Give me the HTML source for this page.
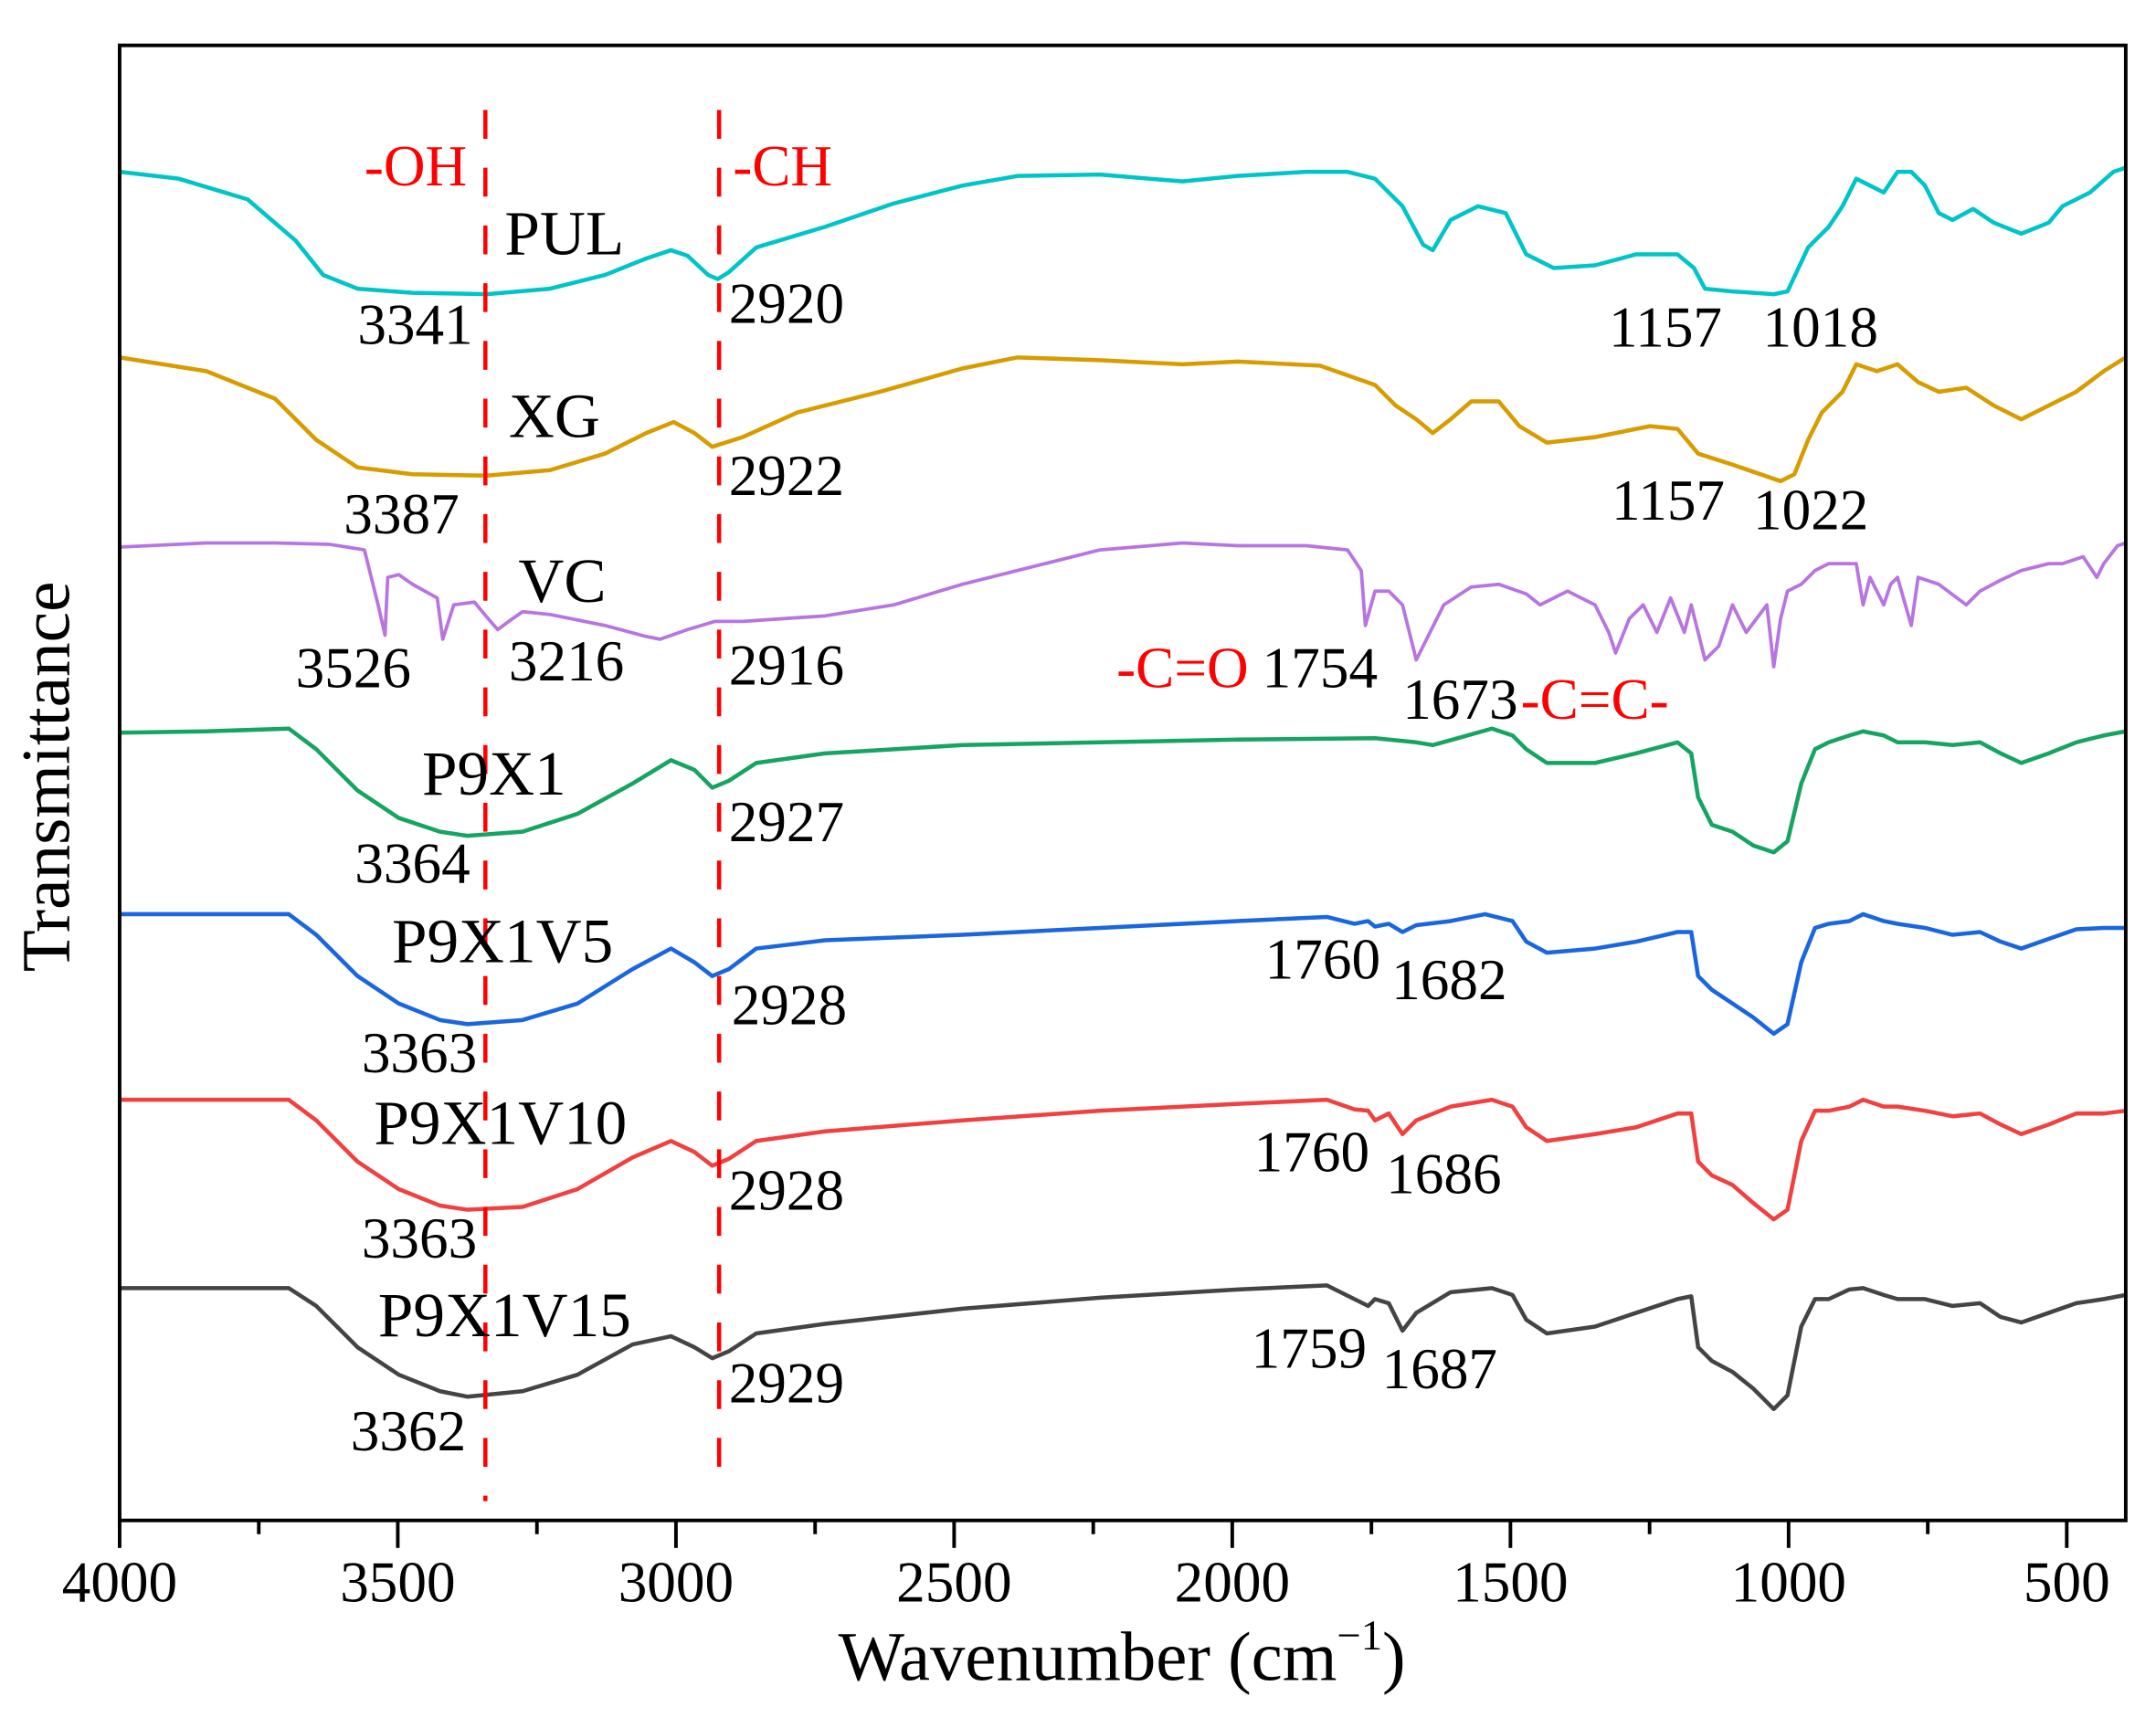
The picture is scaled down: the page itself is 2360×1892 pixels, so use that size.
<!DOCTYPE html>
<html><head><meta charset="utf-8"><style>
html,body{margin:0;padding:0;background:#fff;}
svg{display:block;}
text{font-family:"Liberation Serif",serif;}
</style></head><body>
<svg width="2360" height="1892" viewBox="0 0 1568 1257" preserveAspectRatio="none" xmlns="http://www.w3.org/2000/svg">
<rect x="0" y="0" width="1568" height="1257" fill="#fff"/>
<g fill="none" stroke-width="3" stroke-linejoin="round">
<polyline stroke="#00c4c8" points="87,125 130,130 180,145 215,175 235,200 260,210 300,213 354,214 400,210 440,200 470,188 488,182 500,186 515,200 522,203 530,198 550,180 600,165 650,148 700,135 740,128 800,127 860,132 900,128 950,125 980,125 1000,130 1020,150 1035,178 1042,182 1055,160 1075,150 1095,155 1110,185 1130,195 1160,193 1190,185 1220,185 1232,195 1240,210 1260,212 1290,214 1300,212 1315,180 1330,165 1340,150 1350,130 1360,135 1370,140 1380,125 1390,125 1400,135 1410,155 1420,160 1435,152 1450,162 1470,170 1490,162 1500,150 1520,140 1537,125 1546,122"/>
<polyline stroke="#d89c00" points="87,260 150,270 200,290 230,320 260,340 300,345 354,346 400,342 440,330 470,315 490,307 505,315 518,325 540,318 580,300 640,285 700,268 740,260 800,262 860,265 900,263 960,266 1000,280 1015,295 1030,305 1042,315 1055,305 1070,292 1090,292 1105,310 1125,322 1160,318 1200,310 1220,312 1235,330 1260,338 1295,350 1305,345 1315,320 1325,300 1340,285 1350,265 1365,270 1380,265 1395,278 1410,285 1430,282 1450,295 1470,305 1490,295 1510,285 1530,270 1546,260"/>
<polyline stroke="#b874e0" stroke-width="2.5" points="87,398 150,395 200,395 240,396 265,400 275,440 280,462 282,420 290,418 300,425 318,435 322,465 330,440 345,438 355,450 362,458 370,452 380,445 400,447 440,455 470,463 480,465 500,458 520,452 540,452 600,448 650,440 700,425 760,410 800,400 860,395 900,397 950,397 980,400 990,415 993,455 1000,430 1010,430 1020,440 1025,460 1030,480 1035,470 1050,440 1070,427 1090,425 1110,432 1120,440 1140,430 1160,440 1170,460 1175,475 1185,450 1195,440 1205,460 1215,435 1225,460 1230,440 1240,480 1250,470 1260,440 1270,460 1285,440 1290,485 1295,450 1300,430 1310,425 1320,415 1330,410 1350,410 1355,440 1360,420 1370,440 1375,425 1380,420 1390,455 1395,420 1410,425 1430,440 1440,430 1455,422 1470,415 1490,410 1500,410 1515,405 1525,420 1530,410 1540,397 1546,395"/>
<polyline stroke="#16a462" points="87,533 150,532 210,530 230,545 260,575 290,595 320,605 340,608 380,605 420,592 460,570 488,553 505,560 518,573 530,568 550,555 600,548 650,545 700,542 800,540 900,538 1000,537 1030,540 1042,542 1060,537 1085,530 1100,535 1110,545 1125,555 1160,555 1190,548 1220,540 1230,548 1235,580 1245,600 1260,605 1275,615 1290,620 1300,612 1310,570 1320,545 1330,540 1345,535 1355,532 1370,535 1380,540 1400,540 1420,542 1440,540 1455,548 1470,555 1490,548 1510,540 1530,535 1546,532"/>
<polyline stroke="#1a66e0" points="87,665 210,665 230,680 260,710 290,730 320,742 340,745 380,742 420,730 460,705 488,690 505,700 518,710 530,705 550,690 600,684 700,680 800,675 900,670 965,667 985,672 995,670 1000,674 1010,672 1020,678 1030,673 1055,670 1080,665 1100,670 1110,685 1125,693 1160,690 1190,685 1220,678 1230,678 1235,710 1245,720 1260,730 1275,740 1290,752 1300,745 1310,700 1320,675 1330,672 1345,670 1355,665 1370,670 1380,672 1400,675 1420,680 1440,678 1455,685 1470,690 1490,683 1510,676 1530,675 1546,675"/>
<polyline stroke="#f04040" points="87,800 210,800 230,815 260,845 290,865 320,877 340,880 380,878 420,865 460,842 488,830 505,838 518,848 530,843 550,830 600,823 700,815 800,808 900,803 965,800 985,807 995,808 1000,815 1010,810 1020,825 1030,815 1055,805 1085,800 1100,805 1110,820 1125,830 1160,825 1190,820 1220,810 1230,810 1235,845 1245,855 1260,862 1275,875 1290,887 1300,880 1310,830 1320,808 1330,808 1345,805 1355,800 1370,805 1380,805 1400,808 1420,812 1440,810 1455,818 1470,825 1490,818 1510,810 1530,810 1546,808"/>
<polyline stroke="#444" points="87,937 210,937 230,950 260,980 290,1000 320,1012 340,1016 380,1012 420,1000 460,978 488,972 505,980 518,988 530,983 550,970 600,963 700,952 800,944 900,938 965,935 985,945 995,950 1000,945 1010,948 1020,968 1030,955 1055,940 1085,937 1100,942 1110,960 1125,970 1160,965 1190,955 1220,945 1230,943 1235,980 1245,990 1260,998 1275,1010 1290,1025 1300,1015 1310,965 1320,945 1330,945 1345,938 1355,937 1370,942 1380,945 1400,945 1420,950 1440,948 1455,958 1470,962 1490,955 1510,948 1530,945 1546,942"/>
<line x1="353" y1="80" x2="353" y2="1092" stroke="#ff0000" stroke-width="3" stroke-dasharray="21,21"/>
<line x1="523" y1="80" x2="523" y2="1088" stroke="#ff0000" stroke-width="3" stroke-dasharray="21,21"/>
</g>
<g fill="#000" font-size="42">
<text x="265" y="135" fill="#ff0000">-OH</text>
<text x="533" y="135" fill="#ff0000">-CH</text>
<text x="367" y="185" font-size="46">PUL</text>
<text x="260" y="250">3341</text>
<text x="530" y="235">2920</text>
<text x="1170" y="252">1157</text>
<text x="1282" y="252">1018</text>
<text x="370" y="318" font-size="46">XG</text>
<text x="250" y="388">3387</text>
<text x="530" y="360">2922</text>
<text x="1172" y="378">1157</text>
<text x="1275" y="385">1022</text>
<text x="377" y="438" font-size="46">VC</text>
<text x="215" y="500">3526</text>
<text x="370" y="495">3216</text>
<text x="530" y="498">2916</text>
<text x="812" y="500" fill="#ff0000">-C=O</text>
<text x="918" y="500">1754</text>
<text x="1020" y="523">1673</text>
<text x="1106" y="523" fill="#ff0000">-C=C-</text>
<text x="307" y="578" font-size="46">P9X1</text>
<text x="258" y="642">3364</text>
<text x="530" y="612">2927</text>
<text x="285" y="700" font-size="46">P9X1V5</text>
<text x="263" y="780">3363</text>
<text x="532" y="745">2928</text>
<text x="920" y="712">1760</text>
<text x="1012" y="727">1682</text>
<text x="272" y="832" font-size="46">P9X1V10</text>
<text x="263" y="915">3363</text>
<text x="530" y="880">2928</text>
<text x="912" y="852">1760</text>
<text x="1008" y="868">1686</text>
<text x="275" y="972" font-size="46">P9X1V15</text>
<text x="255" y="1055">3362</text>
<text x="530" y="1020">2929</text>
<text x="910" y="995">1759</text>
<text x="1005" y="1010">1687</text>
</g>
<rect x="87" y="33" width="1459" height="1073" fill="none" stroke="#000" stroke-width="2.6"/>
<g stroke="#000" stroke-width="2.6">
<line x1="87" y1="1106" x2="87" y2="1126"/><line x1="289.3" y1="1106" x2="289.3" y2="1126"/><line x1="491.6" y1="1106" x2="491.6" y2="1126"/><line x1="693.9" y1="1106" x2="693.9" y2="1126"/><line x1="896.2" y1="1106" x2="896.2" y2="1126"/><line x1="1098.5" y1="1106" x2="1098.5" y2="1126"/><line x1="1300.8" y1="1106" x2="1300.8" y2="1126"/><line x1="1503.1" y1="1106" x2="1503.1" y2="1126"/>
<line x1="188.2" y1="1106" x2="188.2" y2="1116"/><line x1="390.5" y1="1106" x2="390.5" y2="1116"/><line x1="592.8" y1="1106" x2="592.8" y2="1116"/><line x1="795.1" y1="1106" x2="795.1" y2="1116"/><line x1="997.4" y1="1106" x2="997.4" y2="1116"/><line x1="1199.7" y1="1106" x2="1199.7" y2="1116"/><line x1="1402" y1="1106" x2="1402" y2="1116"/>
</g>
<g font-size="42" text-anchor="middle" fill="#000">
<text x="87" y="1165">4000</text><text x="289.3" y="1165">3500</text><text x="491.6" y="1165">3000</text><text x="693.9" y="1165">2500</text><text x="896.2" y="1165">2000</text><text x="1098.5" y="1165">1500</text><text x="1300.8" y="1165">1000</text><text x="1503.1" y="1165">500</text>
</g>
<text x="816" y="1222" font-size="51" text-anchor="middle">Wavenumber (cm<tspan font-size="31" dy="-22">−1</tspan><tspan dy="22">)</tspan></text>
<text transform="translate(50,565) rotate(-90)" font-size="50" text-anchor="middle">Transmittance</text>
</svg>
</body></html>
